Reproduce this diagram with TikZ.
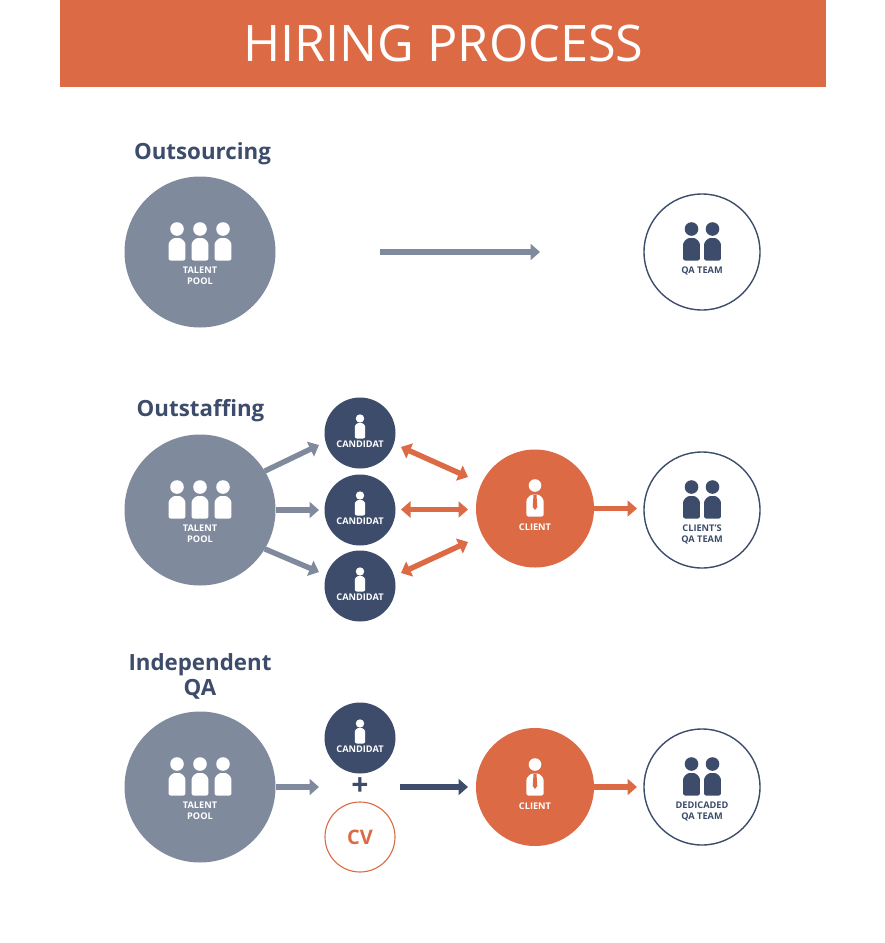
\documentclass[tikz,border=0pt]{standalone}
\usepackage{fontspec}
\setmainfont{Open Sans}
\usetikzlibrary{arrows.meta}
\definecolor{brand}{HTML}{DC6A44}
\definecolor{navy}{HTML}{3D4C6B}
\definecolor{slate}{HTML}{808A9D}
\tikzset{
  x=1pt,y=-1pt,
  every node/.style={inner sep=0pt,outer sep=0pt},
  poolc/.style={circle,fill=slate,minimum size=151pt},
  candc/.style={circle,fill=navy,minimum size=71pt},
  clientc/.style={circle,fill=brand,minimum size=118pt},
  teamc/.style={circle,draw=navy,line width=1.4pt,fill=white,minimum size=116pt},
  cvc/.style={circle,draw=brand,line width=1.1pt,fill=white,minimum size=70pt},
  lab/.style={font=\bfseries\fontsize{9.2}{11}\selectfont,align=center},
  head/.style={font=\bfseries\fontsize{22.3}{25}\selectfont,text=navy,align=center},
  arr/.style={line width=5.4pt,-{Triangle[length=9.5pt,width=16pt]}},
  darr/.style={line width=5.4pt,{Triangle[length=9.5pt,width=16pt]}-{Triangle[length=9.5pt,width=16pt]}},
}
% x, top, half width, bottom, colour
\newcommand{\bodyshape}[5]{\fill[#5,rounded corners=2pt]
  ({#1-#3},#4) -- ({#1-#3},{#2+#3})
  .. controls ({#1-#3},{#2+.45*#3}) and ({#1-.55*#3},#2) .. (#1,#2)
  .. controls ({#1+.55*#3},#2) and ({#1+#3},{#2+.45*#3}) .. ({#1+#3},{#2+#3})
  -- ({#1+#3},#4) -- cycle;}
% big person: x, y of circle centre row offset
\newcommand{\bigperson}[3]{\fill[#3] (#1,{#2-23}) circle[radius=6.8];
  \bodyshape{#1}{#2-14}{8.4}{#2+8.5}{#3}}
\newcommand{\poolicon}[2]{\bigperson{#1-23}{#2}{white}\bigperson{#1}{#2}{white}\bigperson{#1+23}{#2}{white}}
\newcommand{\teamicon}[2]{\fill[navy] ({#1-10.5},{#2-23}) circle[radius=6.8];
  \fill[navy] ({#1+10.5},{#2-23}) circle[radius=6.8];
  \bodyshape{#1-10.5}{#2-14}{8.4}{#2+8.5}{navy}\bodyshape{#1+10.5}{#2-14}{8.4}{#2+8.5}{navy}}
\newcommand{\candicon}[2]{\fill[white] (#1,{#2-14.5}) circle[radius=4.2];
  \bodyshape{#1}{#2-10}{5.2}{#2+5.5}{white}}
\newcommand{\clienticon}[2]{\fill[white] (#1,{#2-22.5}) circle[radius=6.3];
  \bodyshape{#1}{#2-13.5}{8.6}{#2+8.5}{white}
  \fill[brand] ({#1-1.5},{#2-13}) -- ({#1+1.5},{#2-13}) -- ({#1+2.3},{#2-1}) -- (#1,{#2+2}) -- ({#1-2.3},{#2-1}) -- cycle;}
\begin{document}
\begin{tikzpicture}
\useasboundingbox[fill=white] (0,0) rectangle (885,943);
\fill[brand] (60,0) rectangle (826,87);
\node[text=white,font=\fontsize{50.4}{56}\selectfont] (title) at (443.5,43) {HIRING PROCESS};

% Outsourcing
\node[head] (h1) at (202.5,154) {Outsourcing};
\node[poolc] (p1) at (200,252) {};
\node[teamc] (q1) at (702,252) {};
\poolicon{200}{252}
\teamicon{702}{252}
\node[lab,text=white] (p1t) at (200,275.5) {TALENT\\POOL};
\node[lab,text=navy] (q1t) at (702,270.5) {QA TEAM};
\draw[arr,slate,shorten <=104pt,shorten >=104pt] (p1.east) -- (q1.west);

% Outstaffing
\node[head] (h2) at (200.5,411) {Outstaffing};
\node[poolc] (p2) at (200,510) {};
\node[candc] (c1) at (360,433) {};
\node[candc] (c2) at (360,510) {};
\node[candc] (c3) at (360,586) {};
\node[clientc] (k2) at (535,508.5) {};
\node[teamc] (q2) at (702,510) {};
\poolicon{200}{510}
\candicon{360}{433}\candicon{360}{510}\candicon{360}{586}
\clienticon{535}{508}
\teamicon{702}{510}
\node[lab,text=white] (p2t) at (200,533.5) {TALENT\\POOL};
\foreach \n/\y in {a/444.5,b/521,c/597.5}{\node[lab,text=white] (t\n) at (360,\y) {CANDIDAT};}
\node[lab,text=white] (k2t) at (535,527) {CLIENT};
\node[lab,text=navy] (q2t) at (702,534) {CLIENT'S\\QA TEAM};
\coordinate (e1) at (319,445);
\coordinate (e2) at (319,510);
\coordinate (e3) at (319,572);
\draw[arr,slate] (p2.31) -- (e1);
\draw[arr,slate] (p2.east) -- (e2);
\draw[arr,slate] (p2.-31) -- (e3);
\coordinate (d1a) at (401,447);\coordinate (d1b) at (468,477);
\coordinate (d2a) at (401,509.5);\coordinate (d2b) at (468,509.5);
\coordinate (d3a) at (401,573);\coordinate (d3b) at (468,542);
\draw[darr,brand] (d1a) -- (d1b);
\draw[darr,brand] (d2a) -- (d2b);
\draw[darr,brand] (d3a) -- (d3b);
\coordinate (f2) at (637,508.5);
\draw[arr,brand] (k2.east) -- (f2);

% Independent QA
\node[head] (h3) at (200,676) {Independent\\QA};
\node[poolc] (p3) at (200,787) {};
\node[candc] (c4) at (360,738) {};
\node[cvc] (cv) at (360,837) {};
\node[clientc] (k3) at (535,787) {};
\node[teamc] (q3) at (702,787) {};
\poolicon{200}{787}
\candicon{360}{738}
\clienticon{535}{787}
\teamicon{702}{787}
\node[lab,text=white] (p3t) at (200,810.5) {TALENT\\POOL};
\node[lab,text=white] (td) at (360,749.5) {CANDIDAT};
\node[lab,text=white] (k3t) at (535,806) {CLIENT};
\node[lab,text=navy] (q3t) at (702,811) {DEDICADED\\QA TEAM};
\node[text=navy,font=\bfseries\fontsize{30}{30}\selectfont] (plus) at (360,787) {+};
\node[text=brand,font=\bfseries\fontsize{20}{22}\selectfont] (cvt) at (360,837) {CV};
\coordinate (g1) at (319,787);
\coordinate (g2) at (400,787);
\coordinate (g3) at (468,787);
\coordinate (g4) at (637,787);
\draw[arr,slate] (p3.east) -- (g1);
\draw[arr,navy] (g2) -- (g3);
\draw[arr,brand] (k3.east) -- (g4);
\end{tikzpicture}
\end{document}
